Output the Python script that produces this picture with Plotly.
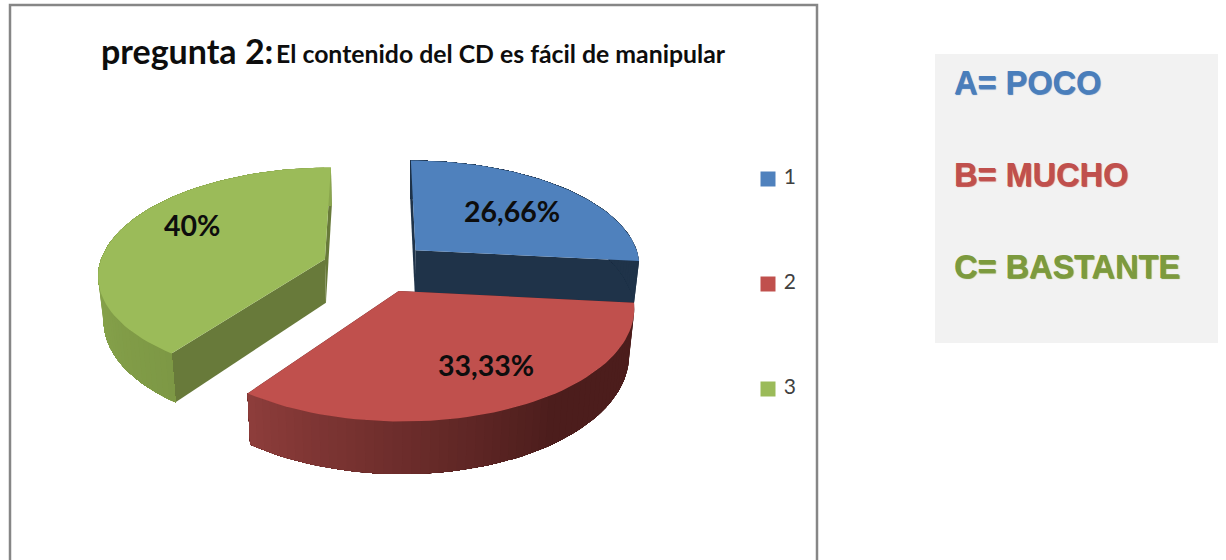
import numpy as np
import plotly.graph_objects as go

# ---- data
categories = ["1", "2", "3"]
values = [26.66, 33.33, 40.0]
value_labels = ["26,66%", "33,33%", "40%"]
key_labels = ["A= POCO", "B= MUCHO", "C= BASTANTE"]
title_big = "pregunta 2:"
title_small = "El contenido del CD es fácil de manipular"

# ---- styles
top_colors = ["#4f81bd", "#c0504d", "#9bbb59"]
cut_colors = ["#1f3349", "#4c1d1c", "#687a3a"]
key_colors = ["#4a7ebb", "#c0504d", "#7c9a3e"]

# pseudo-perspective projection of the exploded pie
CX, CY, A, B, K, EXPLODE, DEPTH, SHRINK = 376, 267, 226, 106, 0.134, 0.24, 44, 0.98


def project(px, py, bottom=False):
    px, py = np.asarray(px, float), np.asarray(py, float)
    s = 1 / (1 - K * py)
    x, y = px * s * A, py * s * B
    if bottom:
        x, y = x * SHRINK, y + DEPTH * s
    return CX + x, CY + y


def mix(c1, c2, t):
    a = [int(c1[i:i + 2], 16) for i in (1, 3, 5)]
    b = [int(c2[i:i + 2], 16) for i in (1, 3, 5)]
    return "rgb(%d,%d,%d)" % tuple(round(p + (q - p) * t) for p, q in zip(a, b))


def poly(xs, ys, color, name=None):
    return go.Scatter(x=list(xs), y=list(ys), mode="lines", fill="toself", fillcolor=color,
                      line=dict(color=color, width=0), showlegend=False, hoverinfo="skip",
                      name=name)


def wall_color(i, deg):
    if i == 1:  # red: light at the left, dark towards the right
        return mix("#4c1d1c", "#8e3d3b", np.clip((deg - 145) / (216 - 145), 0, 1))
    if i == 2:  # green
        return mix("#7d9845", "#8aa64d", np.clip((deg - 216) / 60, 0, 1))
    return cut_colors[i]


total = sum(values)
edges = np.concatenate([[0], np.cumsum(values)]) / total * 360

fig = go.Figure()
for i in [2, 0, 1]:  # back slices first
    a0, a1 = edges[i], edges[i + 1]
    mid = np.radians((a0 + a1) / 2)
    ox, oy = EXPLODE * np.sin(mid), -EXPLODE * np.cos(mid)
    deg = np.linspace(a0, a1, int((a1 - a0) / 2) + 2)
    rim_x = ox + np.sin(np.radians(deg))
    rim_y = oy - np.cos(np.radians(deg))

    # cut faces going down from the two straight edges
    for j in (0, -1):
        ex, ey = np.array([ox, rim_x[j]]), np.array([oy, rim_y[j]])
        tx, ty = project(ex, ey)
        bx, by = project(ex, ey, bottom=True)
        fig.add_trace(poly(np.r_[tx, bx[::-1], tx[0]], np.r_[ty, by[::-1], ty[0]], cut_colors[i]))

    # curved outer wall: each strip reaches the far end, later strips paint over it,
    # so no seams show between the steps of the gradient
    tx, ty = project(rim_x, rim_y)
    bx, by = project(rim_x, rim_y, bottom=True)
    n = len(deg)
    order = range(n - 1) if i == 1 else range(n - 2, -1, -1)
    for k in order:
        if i == 1:
            sx, sy, ex2, ey2 = tx[k:], ty[k:], bx[k:][::-1], by[k:][::-1]
        else:
            sx, sy, ex2, ey2 = tx[:k + 2], ty[:k + 2], bx[:k + 2][::-1], by[:k + 2][::-1]
        fig.add_trace(poly(np.r_[sx, ex2, sx[0]], np.r_[sy, ey2, sy[0]],
                           wall_color(i, (deg[k] + deg[k + 1]) / 2)))

    # top face
    ax, ay = project([ox], [oy])
    fig.add_trace(poly(np.r_[ax, tx, ax], np.r_[ay, ty, ay], top_colors[i], name=categories[i]))

# legend of the chart
legend_y = [179, 284, 389]
fig.add_trace(go.Scatter(x=[768] * 3, y=legend_y, mode="markers+text",
                         text=[" " + c for c in categories],
                         textposition="middle right",
                         textfont=dict(family="Lato", size=21, color="#404040"),
                         marker=dict(symbol="square", size=15, color=top_colors),
                         showlegend=False, hoverinfo="skip"))

ann = []
# slice labels
for txt, x, y in zip(value_labels, [512, 486, 192], [211, 365, 225]):
    ann.append(dict(x=x, y=y, text=f"<b>{txt}</b>", showarrow=False,
                    font=dict(family="Lato", size=28.5, color="#0d0d0d")))
# title
ann.append(dict(x=99, y=50, xanchor="left", text=f"<b>{title_big}</b>", showarrow=False,
                font=dict(family="Lato", size=34, color="#0d0d0d")))
ann.append(dict(x=274, y=53, xanchor="left", text=f"<b>{title_small}</b>", showarrow=False,
                font=dict(family="Lato", size=24.8, color="#0d0d0d")))
# key panel
for txt, c, y in zip(key_labels, key_colors, [83, 175, 267]):
    ann.append(dict(x=952, y=y, xanchor="left", text=f"<b>{txt}</b>", showarrow=False,
                    font=dict(family="Liberation Sans", size=32.5, color=c,
                              shadow=f"0.8px 0.8px 0.8px {c}")))

shapes = [
    dict(type="rect", xref="x", yref="y", x0=10, x1=817, y0=5, y1=620,
         line=dict(color="#868686", width=2.5), fillcolor="white", layer="below"),
    dict(type="rect", xref="x", yref="y", x0=935, x1=1218, y0=54, y1=343,
         line=dict(width=0), fillcolor="#f2f2f2", layer="below"),
]

fig.update_layout(
    width=1226, height=560, autosize=False,
    margin=dict(l=0, r=0, t=0, b=0),
    paper_bgcolor="white", plot_bgcolor="white",
    xaxis=dict(range=[0, 1226], visible=False, fixedrange=True),
    yaxis=dict(range=[560, 0], visible=False, fixedrange=True),
    annotations=ann, shapes=shapes, showlegend=False,
)
fig.write_html("out.html", config=dict(displayModeBar=False),
               post_script="document.body.style.margin='0';document.body.style.overflow='hidden';")
